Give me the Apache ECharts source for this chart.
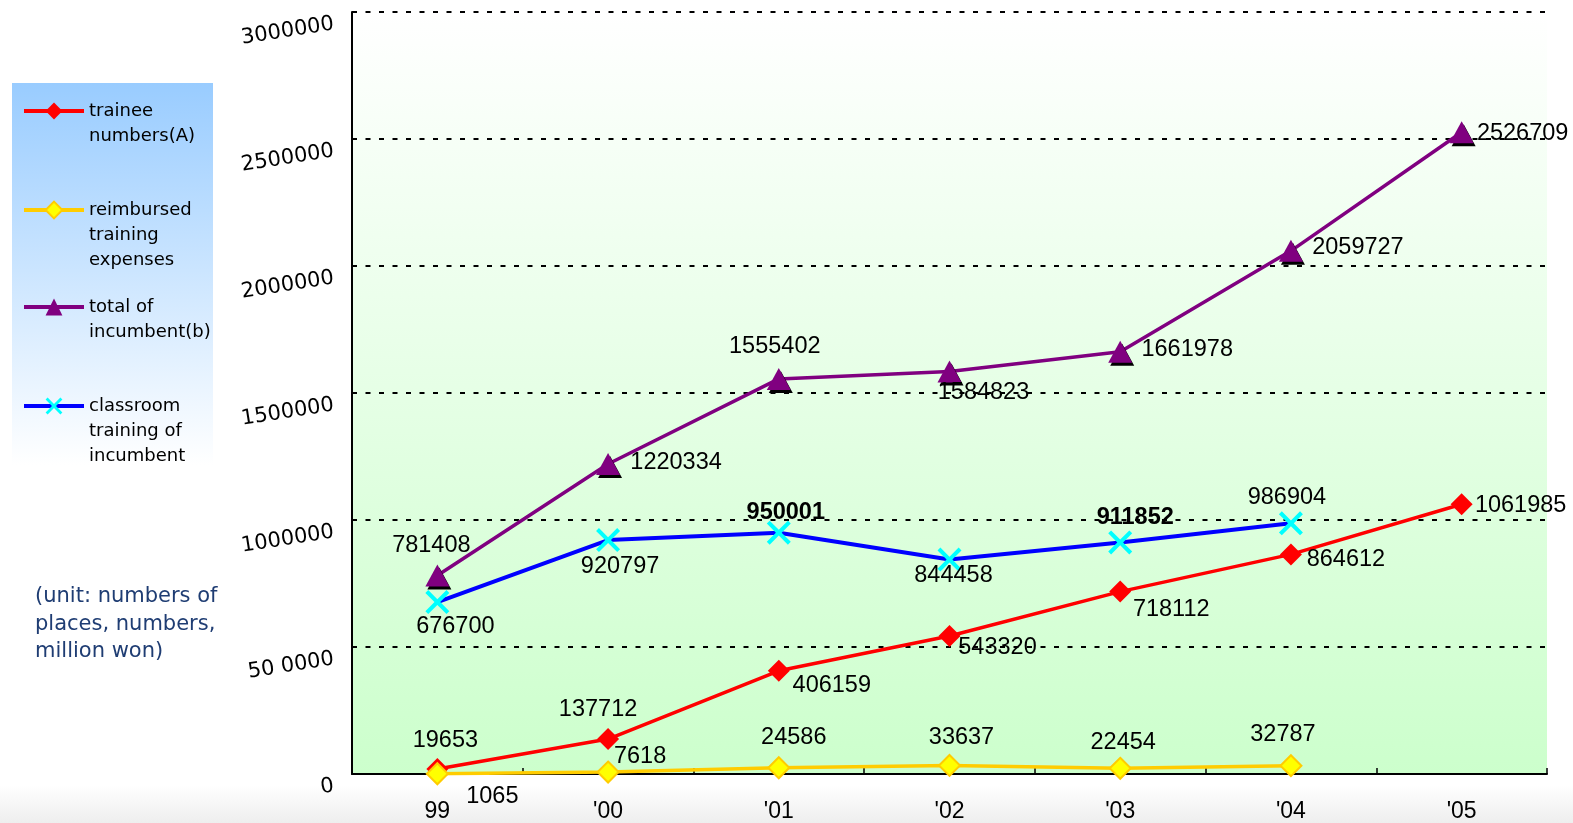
<!DOCTYPE html>
<html>
<head>
<meta charset="utf-8">
<script src="https://cdn.jsdelivr.net/npm/echarts@6/dist/echarts.min.js"></script>
<style>
html,body{margin:0;padding:0;background:#fff;}
#chart{width:1573px;height:823px;}
</style>
</head>
<body>
<div id="chart"></div>
<script>
// ---- data ----
const categories = ['99', "'00", "'01", "'02", "'03", "'04", "'05"];
const traineeNumbers = [19653, 137712, 406159, 543320, 718112, 864612, 1061985];
const reimbursedExpenses = [1065, 7618, 24586, 33637, 22454, 32787, null];
const totalIncumbent = [781408, 1220334, 1555402, 1584823, 1661978, 2059727, 2526709];
const classroomIncumbent = [676700, 920797, 950001, 844458, 911852, 986904, null];
const yTickLabels = ['0', '50 0000', '1000000', '1500000', '2000000', '2500000', '3000000'];
const seriesNames = ['trainee\nnumbers(A)', 'reimbursed\ntraining\nexpenses', 'total of\nincumbent(b)', 'classroom\ntraining of\nincumbent'];
const unitNote = '(unit: numbers of\nplaces, numbers,\nmillion won)';

// ---- label placement (offset of label centre from point) ----
const traineeLabelOffsets = [[8,-28],[-10,-30],[53,15],[48,12],[51,18],[55,5],[59,1]];
const reimbursedLabelOffsets = [[55,23],[32,-16],[15,-30],[12,-28],[3,-26],[-8,-31],[0,0]];
const totalLabelOffsets = [[-6,-30],[68,-2],[-4,-32],[34,21],[67,-2],[67,-3],[61,1]];
const classroomLabelOffsets = [[18,24],[12,26],[7,-20],[4,16],[15,-25],[-4,-26],[0,0]];
const classroomBold = [false,false,true,false,true,false,false];

function buildData(values, offsets, bold) {
  return values.map((v, i) => v == null ? '-' : {
    value: v,
    label: { offset: offsets[i], fontWeight: (bold && bold[i]) ? 'bold' : 'normal' }
  });
}

const labelBase = {
  show: true, position: 'inside', align: 'center', verticalAlign: 'middle',
  color: '#000', fontSize: 23.5, fontFamily: 'Liberation Sans, Arial, sans-serif'
};

const xShape = 'path://M0,1.2L1.2,0L5,3.8L8.8,0L10,1.2L6.2,5L10,8.8L8.8,10L5,6.2L1.2,10L0,8.8L3.8,5Z';

const chart = echarts.init(document.getElementById('chart'), null, {renderer: 'canvas'});

const LEGEND_LH = 25;
function legendFor(name, iconCenterY) {
  const lines = name.split('\n').length;
  const total = 2 * lines - 1;
  return {
    data: [name],
    orient: 'vertical',
    left: 22,
    top: iconCenterY - total * LEGEND_LH / 2,
    padding: 0,
    itemWidth: 60,
    itemHeight: 21,
    selectedMode: false,
    lineStyle: { width: 4 },
    formatter: function (n) { return '\n'.repeat(lines - 1) + n; },
    textStyle: {
      fontSize: 18, fontFamily: 'DejaVu Sans, Verdana, sans-serif', color: '#000',
      lineHeight: LEGEND_LH
    }
  };
}

const option = {
  backgroundColor: '#ffffff',
  animation: false,
  graphic: [
    {
      type: 'rect', left: 0, top: 785, z: -10,
      shape: { width: 1573, height: 38 },
      style: { fill: new echarts.graphic.LinearGradient(0, 0, 0, 1, [
        { offset: 0, color: '#ffffff' }, { offset: 1, color: '#eeeeee' }]) }
    },
    {
      type: 'rect', left: 12, top: 83, z: -5,
      shape: { width: 201, height: 382 },
      style: { fill: new echarts.graphic.LinearGradient(0, 0, 0, 1, [
        { offset: 0, color: '#99ccff' }, { offset: 1, color: '#ffffff' }]) }
    },
    {
      type: 'text', left: 35, top: 583,
      style: {
        text: unitNote, fill: '#1f3d73', fontSize: 21, lineHeight: 27.5,
        fontFamily: 'DejaVu Sans, Verdana, sans-serif'
      }
    }
  ],
  legend: [
    legendFor(seriesNames[0], 111),
    legendFor(seriesNames[1], 210),
    legendFor(seriesNames[2], 307),
    legendFor(seriesNames[3], 406)
  ],
  grid: {
    left: 352, right: 26, top: 12, bottom: 49, show: true, borderWidth: 0,
    backgroundColor: new echarts.graphic.LinearGradient(0, 0, 0, 1, [
      { offset: 0, color: '#ffffff' }, { offset: 1, color: '#ccffcc' }])
  },
  xAxis: {
    type: 'category', data: categories, boundaryGap: true,
    axisLine: { lineStyle: { color: '#000', width: 2 } },
    axisTick: { show: true, inside: true, length: 6, lineStyle: { color: '#000', width: 1.5 } },
    axisLabel: { fontSize: 23, fontFamily: 'Liberation Sans, Arial, sans-serif', color: '#000', margin: 26 }
  },
  yAxis: {
    type: 'value', min: 0, max: 3000000, interval: 500000,
    axisLine: { show: true, lineStyle: { color: '#000', width: 2 } },
    axisTick: { show: true, inside: true, length: 5, lineStyle: { color: '#000' } },
    splitLine: { show: true, lineStyle: { color: '#000', width: 2, type: [5, 8.5] } },
    axisLabel: {
      rotate: 9, margin: 20, fontSize: 21, fontFamily: 'DejaVu Sans, Verdana, sans-serif', color: '#000',
      verticalAlign: 'top', lineHeight: 24,
      formatter: function (v) { return yTickLabels[Math.round(v / 500000)]; }
    }
  },
  series: [
    {
      name: seriesNames[0], type: 'line', z: 4,
      data: buildData(traineeNumbers, traineeLabelOffsets),
      symbol: 'diamond', symbolSize: 22,
      lineStyle: { color: '#ff0000', width: 3.5 },
      itemStyle: { color: '#ff0000' },
      label: labelBase
    },
    {
      name: seriesNames[1], type: 'line', z: 5,
      data: buildData(reimbursedExpenses, reimbursedLabelOffsets),
      symbol: 'diamond', symbolSize: 21,
      lineStyle: { color: '#ffcc00', width: 3.5 },
      itemStyle: { color: '#ffff00', borderColor: '#ffcc00', borderWidth: 2 },
      label: labelBase
    },
    {
      name: seriesNames[2], type: 'line', z: 2,
      data: buildData(totalIncumbent, totalLabelOffsets),
      symbol: 'triangle', symbolSize: [24, 22],
      lineStyle: { color: '#800080', width: 3.5 },
      itemStyle: { color: '#800080', shadowColor: '#000', shadowBlur: 0, shadowOffsetX: 2, shadowOffsetY: 3 },
      label: labelBase
    },
    {
      name: seriesNames[3], type: 'line', z: 3,
      data: buildData(classroomIncumbent, classroomLabelOffsets, classroomBold),
      symbol: xShape, symbolSize: 24,
      lineStyle: { color: '#0000ff', width: 4 },
      itemStyle: { color: '#00ffff' },
      label: labelBase
    }
  ]
};
chart.setOption(option);
</script>
</body>
</html>
